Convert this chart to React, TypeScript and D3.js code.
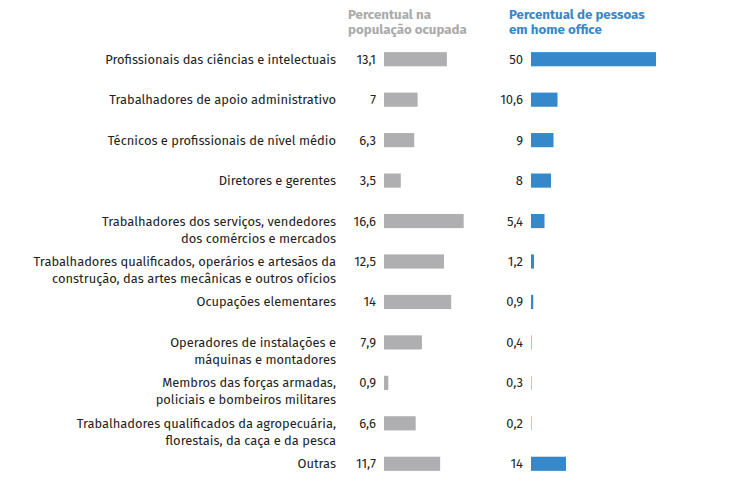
import React from "react";
import * as d3 from "d3";

const categories: string[][] = [
  ["Profissionais das ciências e intelectuais"],
  ["Trabalhadores de apoio administrativo"],
  ["Técnicos e profissionais de nível médio"],
  ["Diretores e gerentes"],
  ["Trabalhadores dos serviços, vendedores", "dos comércios e mercados"],
  ["Trabalhadores qualificados, operários e artesãos da", "construção, das artes mecânicas e outros ofícios"],
  ["Ocupações elementares"],
  ["Operadores de instalações e", "máquinas e montadores"],
  ["Membros das forças armadas,", "policiais e bombeiros militares"],
  ["Trabalhadores qualificados da agropecuária,", "florestais, da caça e da pesca"],
  ["Outras"],
];
const populacao = [13.1, 7, 6.3, 3.5, 16.6, 12.5, 14, 7.9, 0.9, 6.6, 11.7];
const homeOffice = [50, 10.6, 9, 8, 5.4, 1.2, 0.9, 0.4, 0.3, 0.2, 14];
const headerPop = ["Percentual na", "população ocupada"];
const headerHome = ["Percentual de pessoas", "em home office"];

const W = 744;
const H = 488;
const font = "'Fira Sans', 'Noto Sans', sans-serif";
const gray = "#afafb1";
const blue = "#3589cb";
const fmt = (v: number) => String(v).replace(".", ",");

export default function App() {
  const y = d3.scaleBand<number>().domain(d3.range(categories.length)).range([40, 483]).paddingInner(0.65).paddingOuter(0.3);
  const xPop = d3.scaleLinear().domain([0, 10]).range([384, 432]);
  const xHome = d3.scaleLinear().domain([0, 10]).range([531, 556]);

  return (
    <div style={{ position: "absolute", left: 0, top: 0 }}>
      <svg width={W} height={H} style={{ display: "block", fontFamily: font }}>
        <rect width={W} height={H} fill="#fff" />
        {headerPop.map((t, j) => (
          <text key={"p" + j} x={348} y={19 + j * 15} fill="#aaaaaa" fontWeight={700} fontSize={13.3}>{t}</text>
        ))}
        {headerHome.map((t, j) => (
          <text key={"h" + j} x={509} y={19 + j * 15} fill="#3a87c8" fontWeight={700} fontSize={13.3}>{t}</text>
        ))}
        {categories.map((lines, i) => {
          const top = y(i) ?? 0;
          const cy = top + y.bandwidth() / 2;
          return (
            <g key={i}>
              {lines.map((l, j) => (
                <text key={j} x={336} y={cy + 4.5 + j * 17} textAnchor="end" fontSize={12.9} fill="#222">{l}</text>
              ))}
              <text x={376} y={cy + 4.5} textAnchor="end" fontSize={13} fill="#222">{fmt(populacao[i])}</text>
              <rect x={xPop(0)} y={top} width={xPop(populacao[i]) - xPop(0)} height={y.bandwidth()} fill={gray} />
              <text x={523} y={cy + 4.5} textAnchor="end" fontSize={13} fill="#222">{fmt(homeOffice[i])}</text>
              <rect x={xHome(0)} y={top} width={Math.max(xHome(homeOffice[i]) - xHome(0), 0.8)} height={y.bandwidth()} fill={blue} opacity={homeOffice[i] < 0.5 ? 0.5 : 1} />
            </g>
          );
        })}
      </svg>
    </div>
  );
}
